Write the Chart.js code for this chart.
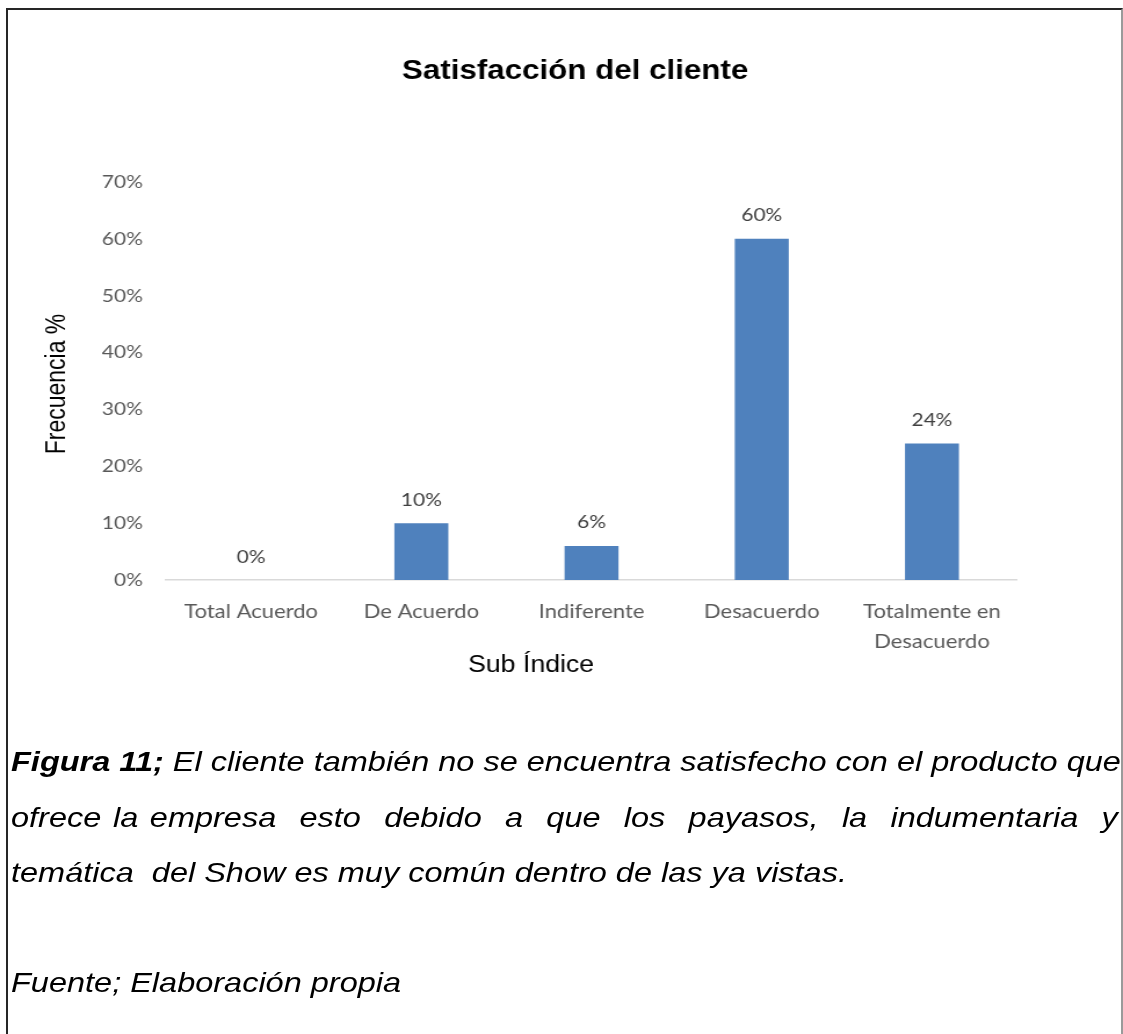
<!DOCTYPE html>
<html>
<head>
<meta charset="utf-8">
<script src="https://cdn.jsdelivr.net/npm/chart.js@4.4.1/dist/chart.umd.min.js"></script>
<style>
  html, body { margin: 0; padding: 0; background: #fff; }
  body { width: 1123px; height: 1034px; overflow: hidden; position: relative; }
  #frame {
    position: absolute; left: 6px; top: 8px; width: 1113px; height: 1100px;
    border: 2px solid #262626; border-right-color: #9a9a9a; border-bottom: none;
  }
  /* the source picture is stretched sideways, so the whole page is too */
  #wrap {
    position: absolute; left: 0; top: 0; width: 968px; height: 1034px;
    transform: scaleX(1.1601); transform-origin: 0 0;
  }
  #chart { position: absolute; left: 0; top: 0; }
  .cap {
    position: absolute; left: 9.5px; width: 954px;
    font-family: "Liberation Sans", Arial, sans-serif; font-style: italic;
    font-size: 28px; line-height: 56px; height: 56px; color: #000;
    white-space: nowrap;
  }
  .just { text-align: justify; text-align-last: justify; }
</style>
</head>
<body>
<div id="frame"></div>
<div id="wrap">
  <canvas id="chart" width="968" height="700"></canvas>
  <div class="cap just" style="top:734px"><b>Figura 11;</b> El cliente también no se encuentra satisfecho con el producto que</div>
  <div class="cap just" style="top:790px">ofrece la empresa&nbsp; esto&nbsp; debido&nbsp; a&nbsp; que&nbsp; los&nbsp; payasos,&nbsp; la&nbsp; indumentaria&nbsp; y</div>
  <div class="cap" style="top:845px">temática&nbsp; del Show es muy común dentro de las ya vistas.</div>
  <div class="cap" style="top:955px">Fuente; Elaboración propia</div>
</div>
<script>
var categories = ['Total Acuerdo', 'De Acuerdo', 'Indiferente', 'Desacuerdo', ['Totalmente en', 'Desacuerdo']];
var frecuencia = [0, 10, 6, 60, 24];
var yTicks = [0, 10, 20, 30, 40, 50, 60, 70];

var arial = '"Liberation Sans", Arial, sans-serif';
var blue = '#4F81BD';

// titles and value labels drawn on the canvas
var extras = {
  id: 'extras',
  afterDatasetsDraw: function (chart) {
    var ctx = chart.ctx;
    ctx.save();
    ctx.fillStyle = '#000';
    ctx.textAlign = 'center';
    ctx.textBaseline = 'alphabetic';
    ctx.font = 'bold 27px ' + arial;
    ctx.fillText('Satisfacción del cliente', 495.7, 79);
    ctx.font = '23px ' + arial;
    ctx.fillText('Sub Índice', 457.8, 672);

    ctx.save();
    ctx.translate(49.6, 384);
    ctx.rotate(-Math.PI / 2);
    ctx.textBaseline = 'middle';
    ctx.fillText('Frecuencia %', 0, 0);
    ctx.restore();

    ctx.fillStyle = '#404040';
    ctx.font = '18px Lato, sans-serif';
    var meta = chart.getDatasetMeta(0);
    meta.data.forEach(function (bar, i) {
      ctx.fillText(frecuencia[i] + '%', bar.x, bar.y - 17.5);
    });
    ctx.restore();
  }
};

new Chart(document.getElementById('chart'), {
  type: 'bar',
  data: {
    labels: categories,
    datasets: [{
      data: frecuencia,
      backgroundColor: blue,
      borderWidth: 0,
      barPercentage: 0.317,
      categoryPercentage: 1
    }]
  },
  options: {
    responsive: false,
    animation: false,
    layout: { padding: { left: 0, right: 91.3, top: 182, bottom: 20 } },
    plugins: { legend: { display: false }, tooltip: { enabled: false }, title: { display: false } },
    scales: {
      x: {
        grid: { display: false, drawTicks: false },
        border: { display: true, color: '#D9D9D9', width: 1.5 },
        ticks: { color: '#595959', font: { family: 'Lato', size: 19, lineHeight: 1.58 }, padding: 17, maxRotation: 0, autoSkip: false },
        afterFit: function (s) { s.height = 100; }
      },
      y: {
        min: 0, max: 70,
        grid: { display: false, drawTicks: false },
        border: { display: false },
        ticks: {
          stepSize: 10, padding: 20, color: '#595959',
          font: { family: 'Lato', size: 18 },
          callback: function (v) { return yTicks.indexOf(v) >= 0 ? v + '%' : ''; }
        },
        afterFit: function (s) { s.width = 143.1; }
      }
    }
  },
  plugins: [extras]
});
</script>
</body>
</html>
